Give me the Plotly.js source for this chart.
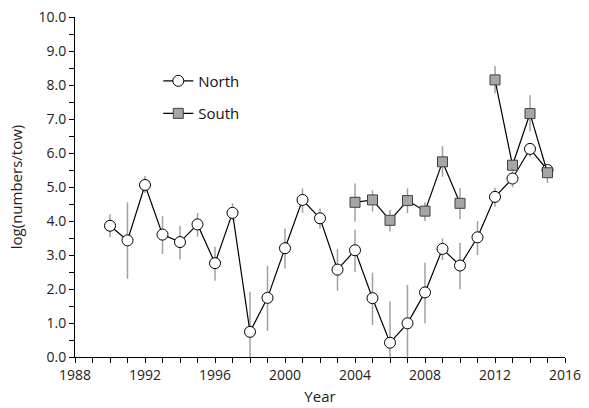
<!DOCTYPE html>
<html>
<head>
<meta charset="utf-8">
<script src="https://cdn.plot.ly/plotly-3.0.1.min.js"></script>
<style>html,body{margin:0;padding:0;background:#fff;}</style>
</head>
<body>
<div id="chart" style="width:589px;height:408px;"></div>
<script>
const northYears = [1990,1991,1992,1993,1994,1995,1996,1997,1998,1999,2000,2001,2002,2003,2004,2005,2006,2007,2008,2009,2010,2011,2012,2013,2014,2015];
const northValues = [3.86,3.43,5.06,3.60,3.38,3.90,2.76,4.24,0.74,1.74,3.20,4.62,4.08,2.57,3.14,1.73,0.42,0.99,1.90,3.18,2.69,3.52,4.71,5.25,6.12,5.50];
const northUpper = [4.20,4.55,5.32,4.14,3.86,4.24,3.24,4.52,1.92,2.68,3.78,4.96,4.37,3.17,3.74,2.48,1.63,2.12,2.77,3.49,3.36,4.00,4.98,5.45,6.28,5.65];
const northLower = [3.52,2.30,4.82,3.03,2.87,3.54,2.24,4.03,0.00,0.77,2.60,4.24,3.78,1.95,2.50,0.94,0.00,0.00,0.99,2.85,1.99,3.00,4.42,4.99,5.89,5.32];

const southYears = [2004,2005,2006,2007,2008,2009,2010,2012,2013,2014,2015];
const southValues = [4.55,4.62,4.02,4.60,4.29,5.74,4.52,8.15,5.64,7.16,5.42];
const southUpper = [5.10,4.90,4.32,4.96,4.55,6.20,4.97,8.56,5.80,7.70,5.56];
const southLower = [3.98,4.28,3.69,4.23,4.00,5.30,4.06,7.76,5.45,6.63,5.12];

const xTickStart = 1988, xTickEnd = 2016, xTickStep = 4;

function errs(vals, up, lo) {
  return {
    type: 'data', symmetric: false,
    array: vals.map((v, i) => +(up[i] - v).toFixed(3)),
    arrayminus: vals.map((v, i) => +(v - lo[i]).toFixed(3)),
    color: '#a0a0a0', thickness: 1.5, width: 0, visible: true
  };
}

const traces = [
  {
    x: northYears, y: northValues, name: 'North', type: 'scatter', mode: 'lines+markers',
    line: {color: '#000', width: 1.2},
    marker: {symbol: 'circle', size: 11, color: '#fff', line: {color: '#000', width: 1}},
    error_y: errs(northValues, northUpper, northLower)
  },
  {
    x: southYears.slice(0, 7), y: southValues.slice(0, 7), name: 'South', type: 'scatter', mode: 'lines+markers',
    line: {color: '#000', width: 1.2}, legendgroup: 's',
    marker: {symbol: 'square', size: 10, color: '#a6a6a6', line: {color: '#404040', width: 1}},
    error_y: errs(southValues.slice(0, 7), southUpper.slice(0, 7), southLower.slice(0, 7))
  },
  {
    x: southYears.slice(7), y: southValues.slice(7), name: 'South', type: 'scatter', mode: 'lines+markers',
    line: {color: '#000', width: 1.2}, legendgroup: 's', showlegend: false,
    marker: {symbol: 'square', size: 10, color: '#a6a6a6', line: {color: '#404040', width: 1}},
    error_y: errs(southValues.slice(7), southUpper.slice(7), southLower.slice(7))
  }
];

const font = {family: 'Open Sans, DejaVu Sans, sans-serif', size: 14, color: '#222'};

const layout = {
  width: 589, height: 408,
  margin: {l: 75, r: 24, t: 17, b: 51},
  paper_bgcolor: '#fff', plot_bgcolor: '#fff',
  font: font,
  showlegend: true,
  legend: {x: 0.17, y: 0.86, xanchor: 'left', yanchor: 'top', bgcolor: 'rgba(0,0,0,0)',
    font: {family: 'Open Sans, sans-serif', size: 15, color: '#111'}, tracegroupgap: 10, itemwidth: 30},
  xaxis: {
    range: [xTickStart, xTickEnd], tick0: xTickStart, dtick: xTickStep, tickmode: 'linear',
    showgrid: false, zeroline: false, showline: true, linecolor: '#000', linewidth: 1,
    ticks: 'outside', ticklen: 5, tickcolor: '#000', tickwidth: 1,
    minor: {dtick: 1, ticks: 'outside', ticklen: 5, tickcolor: '#000', tickwidth: 1, showgrid: false},
    title: {text: 'Year', font: {size: 15, color: '#222'}, standoff: 8},
    tickfont: {size: 14, color: '#222'}
  },
  yaxis: {
    range: [0, 10], dtick: 1, tick0: 0, tickmode: 'linear', tickformat: '.1f',
    showgrid: false, zeroline: false, showline: true, linecolor: '#000', linewidth: 1,
    ticks: 'outside', ticklen: 5, tickcolor: '#000', tickwidth: 1,
    minor: {dtick: 0.5, ticks: 'outside', ticklen: 5, tickcolor: '#000', tickwidth: 1, showgrid: false},
    title: {text: 'log(numbers/tow)', font: {size: 15, color: '#222'}, standoff: 12},
    tickfont: {size: 14, color: '#222'}
  }
};

Plotly.newPlot('chart', traces, layout, {displayModeBar: false, staticPlot: true});
</script>
</body>
</html>
